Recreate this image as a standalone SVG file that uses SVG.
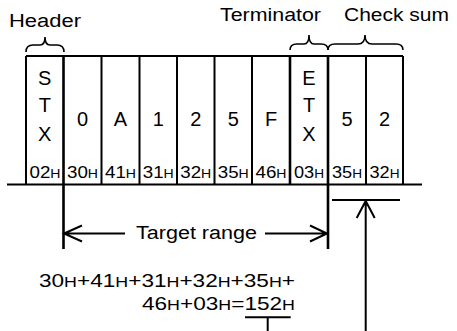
<svg xmlns="http://www.w3.org/2000/svg" width="457" height="331" viewBox="0 0 457 331">
<style>
text{font-family:"Liberation Sans",Arial,sans-serif;fill:#000}
.lbl{font-size:18px}
.ch{font-size:20px;text-anchor:middle}
.hx{font-size:16px;text-anchor:middle}
.hs{font-size:12px}
.fm{font-size:19px}
.fs{font-size:15px}
.ln{stroke:#000;stroke-width:2;fill:none}
.thk{stroke:#000;stroke-width:2.6;fill:none}
</style>
<g id="labels">
<text class="lbl" x="9" y="27" textLength="72" lengthAdjust="spacingAndGlyphs">Header</text>
<text class="lbl" x="220" y="21" textLength="101" lengthAdjust="spacingAndGlyphs">Terminator</text>
<text class="lbl" x="344" y="21" textLength="105" lengthAdjust="spacingAndGlyphs">Check sum</text>
<path class="ln" style="stroke-width:1.6" d="M26,52 Q26,45 33,45 L40,45 Q45,45 45,37 Q45,45 50,45 L57,45 Q64,45 64,52"/>
<path class="ln" style="stroke-width:1.6" d="M290,50 Q290,44 297,44 L304,44 Q309,44 309,35 Q309,44 314,44 L321,44 Q328,44 328,50"/>
<path class="ln" style="stroke-width:1.6" d="M328,50 Q328,44 335,44 L358,44 Q365,44 365,35 Q365,44 372,44 L396,44 Q403,44 403,50"/>
</g>
<g id="frame">
<path class="ln" d="M26,56 H403 M7,184.5 H422"/>
<path class="ln" d="M26,56 V184.5 M101.5,56 V184.5 M139.5,56 V184.5 M177,56 V184.5 M214.5,56 V184.5 M252,56 V184.5 M366,56 V184.5 M403,56 V184.5"/>
<path class="thk" d="M63.5,56 V249 M290,56 V184.5 M328,56 V249"/>
</g>
<g id="cells">
<text class="ch" x="44.75" y="85">S</text>
<text class="ch" x="44.75" y="112">T</text>
<text class="ch" x="44.75" y="141">X</text>
<text class="ch" x="82.5" y="126">0</text>
<text class="ch" x="120.5" y="126">A</text>
<text class="ch" x="158.25" y="126">1</text>
<text class="ch" x="195.75" y="126">2</text>
<text class="ch" x="233.25" y="126">5</text>
<text class="ch" x="271" y="126">F</text>
<text class="ch" x="309" y="85">E</text>
<text class="ch" x="309" y="112">T</text>
<text class="ch" x="309" y="141">X</text>
<text class="ch" x="347" y="126">5</text>
<text class="ch" x="384.5" y="126">2</text>
<text class="hx" x="45" y="177.5" textLength="31" lengthAdjust="spacingAndGlyphs">02<tspan class="hs">H</tspan></text>
<text class="hx" x="82.5" y="177.5" textLength="31" lengthAdjust="spacingAndGlyphs">30<tspan class="hs">H</tspan></text>
<text class="hx" x="120.5" y="177.5" textLength="31" lengthAdjust="spacingAndGlyphs">41<tspan class="hs">H</tspan></text>
<text class="hx" x="158.25" y="177.5" textLength="31" lengthAdjust="spacingAndGlyphs">31<tspan class="hs">H</tspan></text>
<text class="hx" x="195.75" y="177.5" textLength="31" lengthAdjust="spacingAndGlyphs">32<tspan class="hs">H</tspan></text>
<text class="hx" x="233.25" y="177.5" textLength="31" lengthAdjust="spacingAndGlyphs">35<tspan class="hs">H</tspan></text>
<text class="hx" x="271" y="177.5" textLength="31" lengthAdjust="spacingAndGlyphs">46<tspan class="hs">H</tspan></text>
<text class="hx" x="309" y="177.5" textLength="30" lengthAdjust="spacingAndGlyphs">03<tspan class="hs">H</tspan></text>
<text class="hx" x="347" y="177.5" textLength="30" lengthAdjust="spacingAndGlyphs">35<tspan class="hs">H</tspan></text>
<text class="hx" x="384.5" y="177.5" textLength="30" lengthAdjust="spacingAndGlyphs">32<tspan class="hs">H</tspan></text>
</g>
<g id="connectors">
<path class="ln" d="M63.5,233.5 H125 M82,225.5 L64,233.5 L82,241.5"/>
<path class="ln" d="M265,233.5 H328 M310,225.5 L327,233.5 L310,241.5"/>
<path class="ln" d="M332,200 H400 M365.7,201 V331 M356.7,218 L365.7,201 L374.7,218"/>
<path class="ln" d="M245,317.3 H290.7 M267.7,317.3 V331"/>
</g>
<g id="texts">
<text class="lbl" x="136" y="239" textLength="121" lengthAdjust="spacingAndGlyphs">Target range</text>
<text class="fm" x="39" y="287" textLength="256" lengthAdjust="spacingAndGlyphs">30<tspan class="fs">H</tspan>+41<tspan class="fs">H</tspan>+31<tspan class="fs">H</tspan>+32<tspan class="fs">H</tspan>+35<tspan class="fs">H</tspan>+</text>
<text class="fm" x="142" y="310" textLength="153" lengthAdjust="spacingAndGlyphs">46<tspan class="fs">H</tspan>+03<tspan class="fs">H</tspan>=152<tspan class="fs">H</tspan></text>
</g>
</svg>
